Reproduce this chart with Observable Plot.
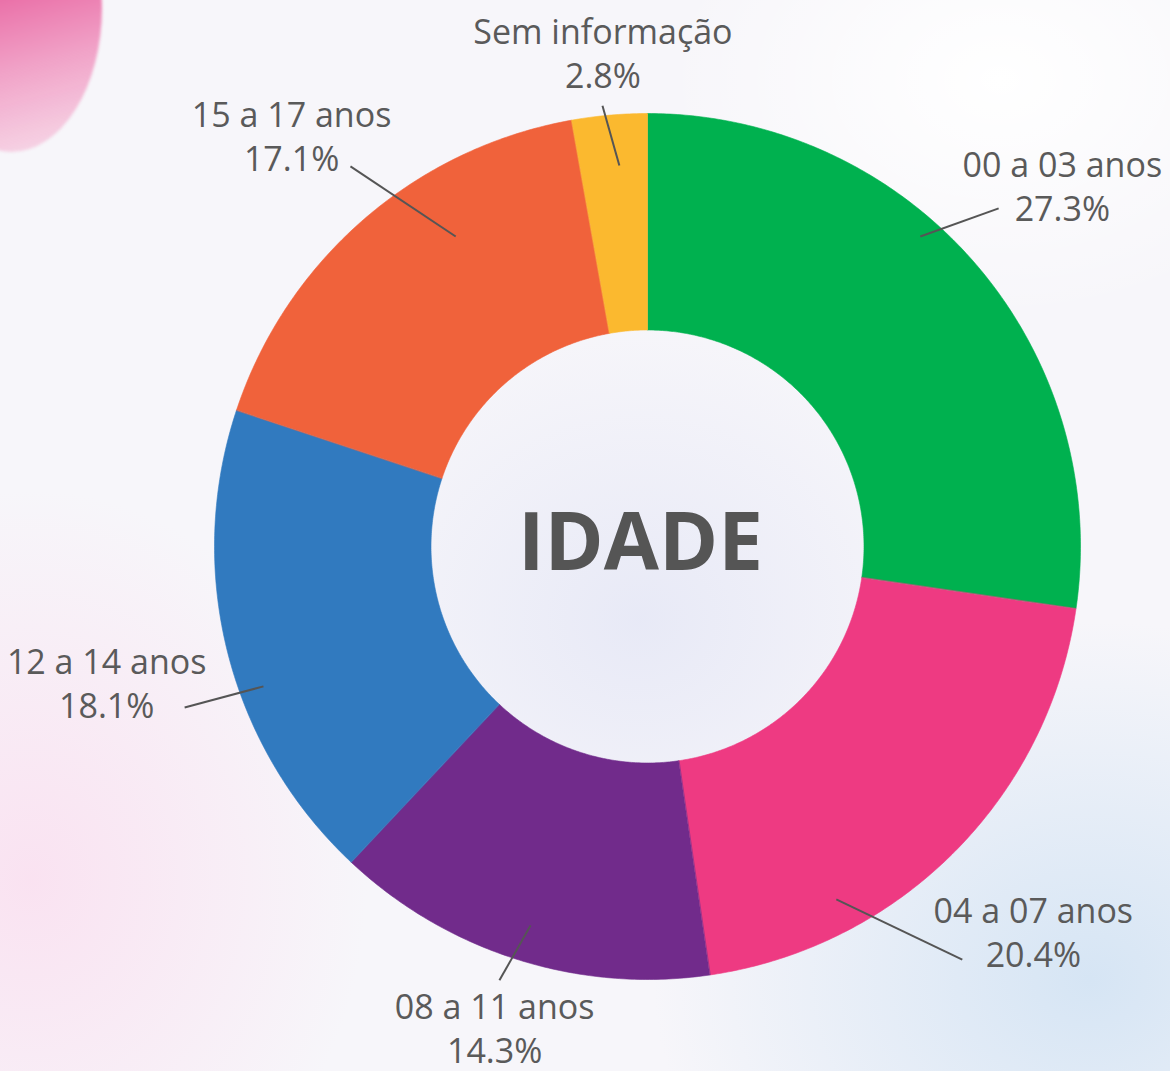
<!DOCTYPE html>
<html>
<head>
<meta charset="utf-8">
<script src="https://cdn.jsdelivr.net/npm/d3@7"></script>
<script src="https://cdn.jsdelivr.net/npm/@observablehq/plot@0.6"></script>
<style>
  html, body { margin: 0; padding: 0; }
  #wrap {
    position: relative; width: 1170px; height: 1071px; overflow: hidden;
    background:
      radial-gradient(ellipse 560px 460px at 1090px 980px, rgba(212,228,244,0.95), rgba(212,228,244,0) 78%),
      radial-gradient(ellipse 450px 520px at 30px 880px, rgba(250,224,240,0.9), rgba(250,224,240,0) 75%),
      radial-gradient(ellipse 420px 380px at 640px 620px, rgba(230,232,246,0.9), rgba(230,232,246,0) 80%),
      radial-gradient(ellipse 420px 300px at 1000px 80px, rgba(255,255,255,1), rgba(255,255,255,0) 80%),
      #f7f6fa;
    font-family: "Open Sans", sans-serif;
  }
  #splash {
    position: absolute; left: -80px; top: -110px; width: 182px; height: 262px;
    border-radius: 45% 55% 50% 50% / 35% 45% 55% 65%;
    background: linear-gradient(165deg, #e2499a 0%, #e8629f 35%, #f0a0c6 65%, rgba(247,212,229,0.7) 100%);
    filter: blur(1.5px);
  }
  #chart { position: absolute; left: 0; top: 0; }
</style>
</head>
<body>
<div id="wrap"><div id="splash"></div><div id="chart"></div></div>
<script>
// ---- data ----
const categories = ["00 a 03 anos", "04 a 07 anos", "08 a 11 anos", "12 a 14 anos", "15 a 17 anos", "Sem informação"];
const shares = [27.3, 20.4, 14.3, 18.1, 17.1, 2.8];
const colors = ["#00b14f", "#ee3a82", "#712b8b", "#317abf", "#f0623b", "#fbb92f"];
const centerTitle = "IDADE";

// ---- layout (unit radius = outer radius) ----
const W = 1170, H = 1071, CX = 647, CY = 546, R = 433;
const innerR = 0.5;
// leader line start / end and label centre, in unit coordinates (y up)
const labelLayout = {
  "00 a 03 anos":   {s: [0.630, 0.716],  e: [0.811, 0.781],  t: [0.958, 0.836]},
  "04 a 07 anos":   {s: [0.436, -0.815], e: [0.727, -0.954], t: [0.891, -0.888]},
  "08 a 11 anos":   {s: [-0.270, -0.875], e: [-0.342, -1.002], t: [-0.353, -1.110]},
  "12 a 14 anos":   {s: [-0.887, -0.323], e: [-1.069, -0.372], t: [-1.249, -0.313]},
  "15 a 17 anos":   {s: [-0.443, 0.716], e: [-0.686, 0.878], t: [-0.822, 0.950]},
  "Sem informação": {s: [-0.065, 0.880], e: [-0.104, 1.018], t: [-0.103, 1.142]}
};

const arcs = d3.pie().sort(null).value(d => d)(shares);
const slicePts = [];
arcs.forEach((a, i) => {
  const cat = categories[i];
  const n = Math.max(4, Math.ceil((a.endAngle - a.startAngle) / (Math.PI / 360)));
  for (let k = 0; k <= n; k++) {
    const t = a.startAngle + (a.endAngle - a.startAngle) * k / n;
    slicePts.push({cat, x: Math.sin(t), y: Math.cos(t)});
  }
  for (let k = n; k >= 0; k--) {
    const t = a.startAngle + (a.endAngle - a.startAngle) * k / n;
    slicePts.push({cat, x: innerR * Math.sin(t), y: innerR * Math.cos(t)});
  }
});

const leaders = categories.map(c => ({cat: c, x1: labelLayout[c].s[0], y1: labelLayout[c].s[1], x2: labelLayout[c].e[0], y2: labelLayout[c].e[1]}));
const labels = categories.map((c, i) => ({cat: c, x: labelLayout[c].t[0], y: labelLayout[c].t[1], text: `${c}\n${shares[i].toFixed(1)}%`}));

const chart = Plot.plot({
  width: W, height: H, margin: 0,
  x: {domain: [-CX / R, (W - CX) / R], axis: null},
  y: {domain: [-(H - CY) / R, CY / R], axis: null},
  color: {domain: categories, range: colors},
  style: {background: "transparent", fontFamily: "'Open Sans', sans-serif", overflow: "visible"},
  marks: [
    Plot.line(slicePts, {x: "x", y: "y", z: "cat", fill: "cat", stroke: "cat", strokeWidth: 0.6, curve: "linear-closed"}),
    Plot.link(leaders, {x1: "x1", y1: "y1", x2: "x2", y2: "y2", stroke: "#555555", strokeWidth: 2}),
    Plot.text(labels, {x: "x", y: "y", text: "text", fontSize: 34, fill: "#5a5a5a", lineHeight: 1.3, textAnchor: "middle", lineAnchor: "middle"}),
    Plot.text([{x: -0.016, y: 0.006, t: centerTitle}], {x: "x", y: "y", text: "t", fontSize: 80, fontWeight: 700, fill: "#555555", textAnchor: "middle"})
  ]
});
document.getElementById("chart").appendChild(chart);
</script>
</body>
</html>
